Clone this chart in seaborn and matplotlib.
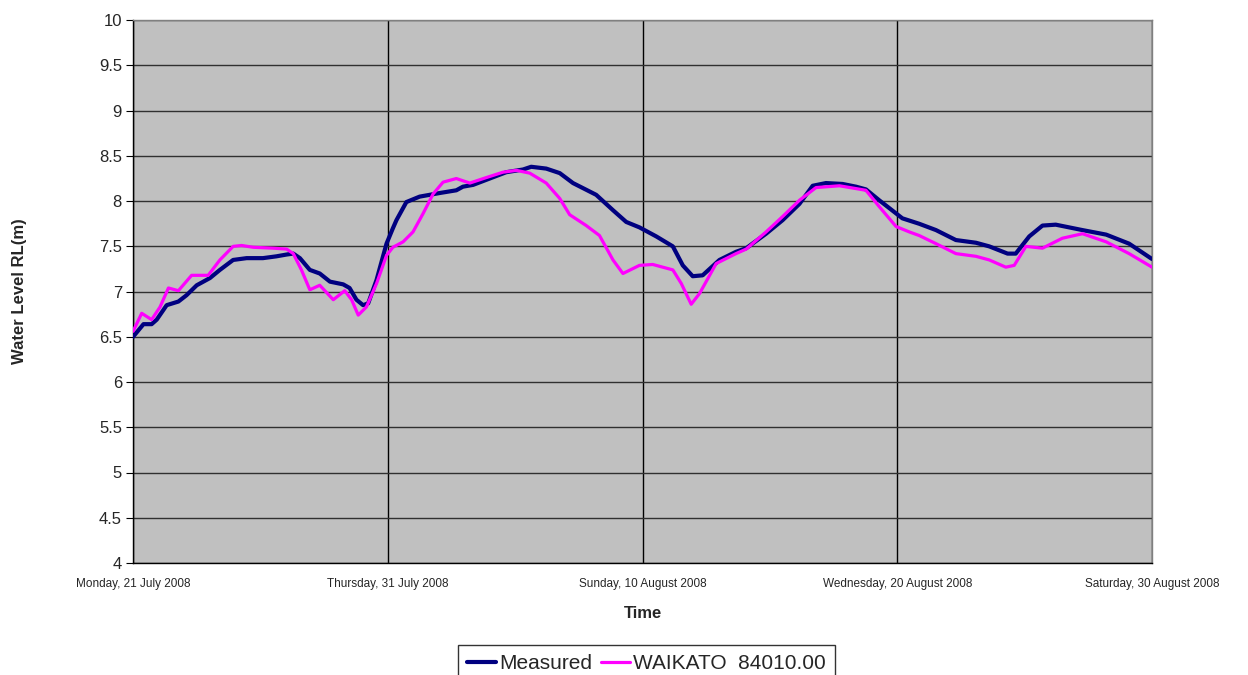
import numpy as np
import pandas as pd
import matplotlib
matplotlib.use('Agg')
import matplotlib.pyplot as plt
import matplotlib.dates as mdates
import seaborn as sns

# 数据（天数从2008-07-21起算）
measured_days = [0, 0.41, 0.73, 0.93, 1.32, 1.78, 2.1, 2.5, 3.02, 3.41, 3.93, 4.46, 5.1, 5.63,
                 6.03, 6.29, 6.55, 6.94, 7.33, 7.73, 8.25, 8.5, 8.77, 9.03, 9.23, 9.56, 9.95,
                 10.2, 10.34, 10.73, 11.25, 12.04, 12.69, 12.95, 13.35, 14.0, 14.65, 15.31,
                 15.63, 16.22, 16.75, 17.27, 18.18, 18.84, 19.36, 19.88, 20.54, 21.19, 21.58,
                 21.97, 22.36, 23.02, 23.67, 24.07, 24.85, 25.5, 26.16, 26.68, 27.2, 27.85,
                 28.38, 28.77, 29.29, 29.7, 30.2, 30.86, 31.52, 32.3, 33.09, 33.61, 34.33,
                 34.65, 35.18, 35.7, 36.22, 37.27, 38.2, 39.1, 40]
measured_vals = [6.50, 6.64, 6.64, 6.69, 6.85, 6.89, 6.96, 7.07, 7.15, 7.24, 7.35, 7.37, 7.37, 7.39,
                 7.41, 7.42, 7.37, 7.24, 7.20, 7.11, 7.08, 7.04, 6.91, 6.85, 6.87, 7.13, 7.53,
                 7.70, 7.79, 7.99, 8.05, 8.09, 8.12, 8.16, 8.18, 8.25, 8.32, 8.35,
                 8.38, 8.36, 8.31, 8.20, 8.07, 7.90, 7.77, 7.71, 7.61, 7.50, 7.29,
                 7.17, 7.18, 7.35, 7.44, 7.48, 7.64, 7.79, 7.97, 8.17, 8.20, 8.19,
                 8.16, 8.13, 8.01, 7.92, 7.81, 7.75, 7.68, 7.57, 7.54, 7.50, 7.42,
                 7.42, 7.61, 7.73, 7.74, 7.68, 7.63, 7.53, 7.36]

waikato_days = [0, 0.34, 0.73, 1.06, 1.39, 1.78, 2.3, 2.95, 3.41, 3.93, 4.26, 4.72, 5.5, 6.03,
                6.29, 6.61, 6.94, 7.33, 7.86, 8.31, 8.58, 8.84, 9.16, 9.56, 9.95, 10.2, 10.6,
                10.99, 11.38, 11.78, 12.17, 12.69, 13.22, 13.86, 14.52, 15.05, 15.57, 16.22,
                16.75, 17.14, 17.79, 18.31, 18.84, 19.23, 19.88, 20.4, 21.19, 21.52, 21.91,
                22.24, 22.89, 23.67, 24.07, 24.85, 25.5, 26.16, 26.81, 27.73, 28.77, 29.29,
                29.95, 30.47, 30.86, 31.52, 32.3, 33.09, 33.61, 34.26, 34.59, 35.05, 35.7,
                36.48, 37.27, 38.2, 39.1, 40]
waikato_vals = [6.56, 6.76, 6.69, 6.83, 7.04, 7.01, 7.18, 7.18, 7.35, 7.50, 7.51, 7.49, 7.48, 7.47,
                7.42, 7.24, 7.02, 7.07, 6.91, 7.01, 6.91, 6.74, 6.83, 7.09, 7.40, 7.49, 7.55,
                7.66, 7.86, 8.08, 8.21, 8.25, 8.20, 8.26, 8.32, 8.34, 8.31, 8.20,
                8.03, 7.85, 7.73, 7.62, 7.35, 7.20, 7.29, 7.30, 7.24, 7.09, 6.86,
                6.98, 7.31, 7.42, 7.47, 7.66, 7.83, 8.01, 8.15, 8.17, 8.12, 7.94,
                7.72, 7.66, 7.62, 7.53, 7.42, 7.39, 7.35, 7.27, 7.29, 7.50, 7.48,
                7.59, 7.64, 7.55, 7.42, 7.27]

series_names = ['Measured', 'WAIKATO  84010.00']
start = pd.Timestamp('2008-07-21')

df = pd.concat([
    pd.DataFrame({'Time': start + pd.to_timedelta(measured_days, unit='D'),
                  'Level': measured_vals, 'Series': series_names[0]}),
    pd.DataFrame({'Time': start + pd.to_timedelta(waikato_days, unit='D'),
                  'Level': waikato_vals, 'Series': series_names[1]}),
])

sns.set_style('white')
plt.rcParams['font.family'] = ['Liberation Sans', 'DejaVu Sans']
plt.rcParams['lines.solid_joinstyle'] = 'round'

fig = plt.figure(figsize=(12.48, 6.75), dpi=100)
ax = fig.add_axes([0.1066, 0.166, 0.8165, 0.804])
ax.set_facecolor('#C0C0C0')

sns.lineplot(data=df, x='Time', y='Level', hue='Series', size='Series',
             palette={series_names[0]: '#000080', series_names[1]: '#FF00FF'},
             sizes={series_names[0]: 3.0, series_names[1]: 2.3},
             ax=ax, legend=False, zorder=3)

ax.set_xlim(start, start + pd.Timedelta(days=40))
ax.set_ylim(4, 10)
ax.set_yticks(np.arange(4, 10.01, 0.5))
ax.set_yticklabels([f'{v:g}' for v in np.arange(4, 10.01, 0.5)], fontsize=12)
xt = [start + pd.Timedelta(days=d) for d in range(0, 41, 10)]
ax.set_xticks(xt)
ax.xaxis.set_major_formatter(mdates.DateFormatter('%A, %d %B %Y'))
ax.tick_params(axis='x', labelsize=8.5, length=5, width=0.8, color='black', direction='out', pad=6)
ax.tick_params(axis='y', length=5, width=0.8, color='black', direction='out', left=True, pad=3)

ax.grid(True, axis='y', color='#303030', linewidth=1)
ax.grid(True, axis='x', color='black', linewidth=1)
ax.set_axisbelow(True)
for s in ax.spines.values():
    s.set_color('#808080')
    s.set_linewidth(1)
ax.spines['left'].set_color('black')
ax.spines['bottom'].set_color('black')

ax.set_xlabel('Time', fontsize=12, fontweight='bold', labelpad=11)
ax.set_ylabel('Water Level RL(m)', fontsize=12, fontweight='bold', labelpad=52)

handles = [plt.Line2D([], [], color='#000080', lw=3.0),
           plt.Line2D([], [], color='#FF00FF', lw=2.3)]
leg = fig.legend(handles, series_names, loc='upper center', bbox_to_anchor=(0.518, 1 - 645 / 675),
                 ncol=2, fontsize=15, frameon=True, fancybox=False, edgecolor='black',
                 handlelength=1.4, handletextpad=0.15, columnspacing=0.4, borderpad=0.45,
                 borderaxespad=0)
leg.get_frame().set_linewidth(1)

fig.savefig('out.png', dpi=100)
